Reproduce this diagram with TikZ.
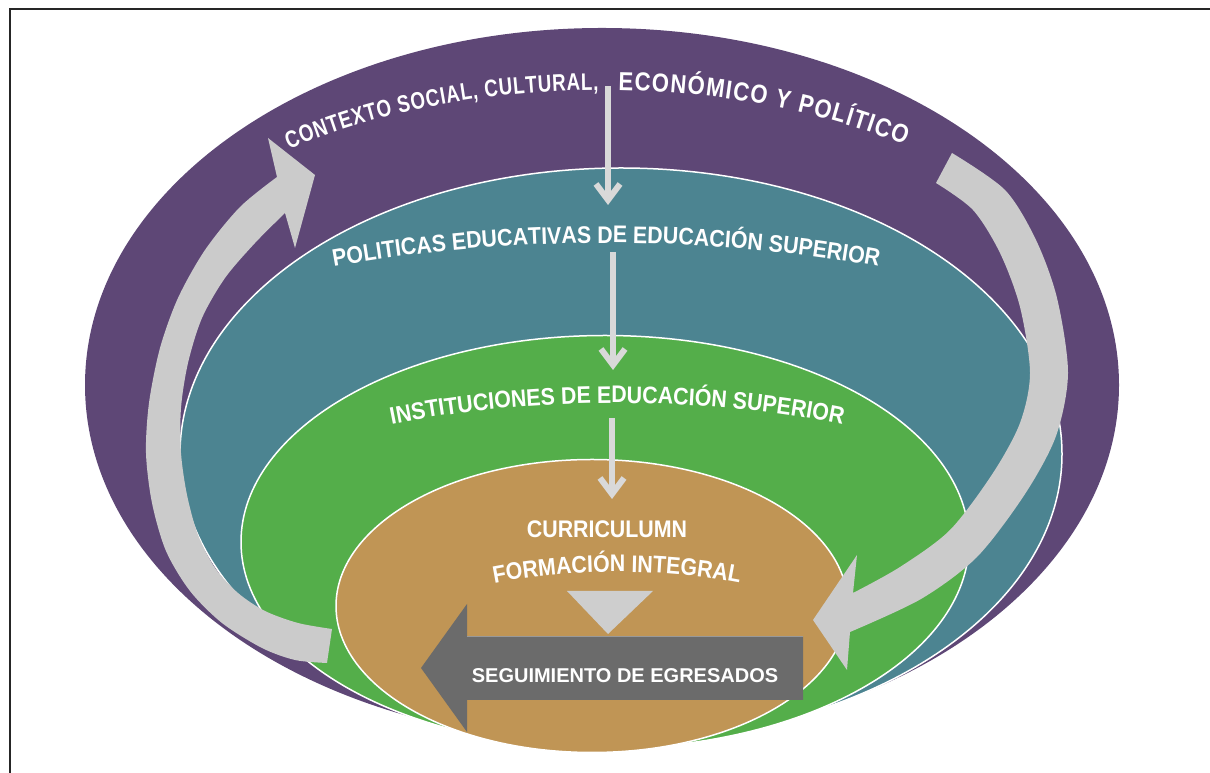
\documentclass[tikz,border=0pt]{standalone}
\usepackage{fontspec}
\setmainfont{Liberation Sans}
\newfontfamily\bandfamily[FakeStretch=0.89]{Liberation Sans}
\newfontfamily\archfamily[FakeStretch=0.78]{Liberation Sans}
\newfontfamily\widearchfamily[FakeStretch=0.85]{Liberation Sans}
\usetikzlibrary{shapes.geometric,decorations.text,arrows.meta,positioning}

\definecolor{ctxpurple}{HTML}{5E4776}
\definecolor{polteal}{HTML}{4C8491}
\definecolor{insgreen}{HTML}{54AE4A}
\definecolor{curtan}{HTML}{C09555}
\definecolor{loopgray}{HTML}{CBCBCB}
\definecolor{flowgray}{HTML}{D9D9D9}
\definecolor{segdark}{HTML}{6B6B6B}

\newcommand\bandfont{\color{white}\bandfamily\bfseries\fontsize{24}{28}\selectfont}
\newcommand\archfont{\color{white}\archfamily\bfseries\fontsize{24}{28}\selectfont}
\newcommand\widearchfont{\color{white}\widearchfamily\bfseries\fontsize{26}{30}\selectfont}

\begin{document}
\begin{tikzpicture}[x=1pt,y=1pt,
  layer/.style={ellipse,inner sep=0pt,outer sep=0pt,draw=white,line width=1.5pt},
  flow/.style={draw=flowgray,line width=6pt,-{Straight Barb[length=16pt,width=24pt]}},
  band text/.style={decorate,decoration={text along path,text align=center,text={|\bandfont|#1}}},
  arch text/.style={decorate,decoration={text along path,text align=fit to path,text={|\archfont|#1}}},
  wide arch text/.style={decorate,decoration={text along path,text align=fit to path,text={|\widearchfont|#1}}},
  main label/.style={text=white,font=\bandfamily\bfseries\fontsize{24}{28}\selectfont,inner sep=0pt}]

  \useasboundingbox (0,0) rectangle (1210,773);
  \draw[line width=2pt,black!85] (10,0) -- (10,764) -- (1210,764);

  % nested layers
  \node[layer,draw=none,fill=ctxpurple,minimum width=1034pt,minimum height=714pt] (ctx) at (602,388) {};
  \node[layer,fill=polteal,minimum width=882pt,minimum height=572pt] (pol) at (621,319) {};
  \node[layer,fill=insgreen,minimum width=728pt,minimum height=413pt] (ins) at (605,231) {};
  \node[layer,fill=curtan,minimum width=512pt,minimum height=293pt] (cur) at (592,167) {};

  % loop arrows
  \fill[loopgray] plot[smooth] coordinates {(277,596) (240,566) (205,523) (178,475) (160,425)
      (149,370) (146,320) (152,270) (166,222) (190,182) (222,150) (262,125) (295,113) (327,110)}
    -- (332,144)
    -- plot[smooth] coordinates {(332,144) (298,150) (265,162) (238,180) (215,205) (198,238)
      (187,278) (181,320) (181,365) (188,410) (202,455) (225,495) (255,530) (285,560)}
    -- (295,525) -- (315,598) -- (268,635) -- cycle;
  \fill[loopgray] (936,590) -- (952,620)
    -- plot[smooth] coordinates {(952,620) (1005,583) (1036,533) (1057,475) (1068,400)
      (1056,337) (1025,279) (977,216) (921,174) (850,141)}
    -- (847,103) -- (813,153) -- (857,218) -- (853,180)
    -- plot[smooth] coordinates {(853,180) (900,206) (950,243) (993,300) (1020,350)
      (1030,400) (1020,466) (1000,520) (973,563) (936,590)} -- cycle;

  % layer titles
  \path[arch text={CONTEXTO SOCIAL, CULTURAL,}]
    ([shift={(127:520 and 295)}]602,388) arc[start angle=127,end angle=90.4,x radius=520,y radius=295];
  \path[wide arch text={ECONÓMICO Y POLÍTICO}]
    ([shift={(88.2:520 and 295)}]602,388) arc[start angle=88.2,end angle=54.4,x radius=520,y radius=295];
  \path[band text={POLITICAS EDUCATIVAS DE EDUCACIÓN SUPERIOR}]
    ([shift={(125:700 and 300)}]606,230) arc[start angle=125,end angle=55,x radius=700,y radius=300];
  \path[band text={INSTITUCIONES DE EDUCACIÓN SUPERIOR}]
    ([shift={(130:500 and 200)}]617,170) arc[start angle=130,end angle=50,x radius=500,y radius=200];
  \path[band text={FORMACIÓN INTEGRAL}]
    ([shift={(140:265 and 100)}]617,101) arc[start angle=140,end angle=40,x radius=265,y radius=100];
  \node[main label,anchor=base] (curlabel) at (607,235) {CURRICULUMN};

  % downward flow
  \coordinate (f1a) at (608,687);
  \coordinate (f1b) at (608,568);
  \coordinate (f2a) at (613,521);
  \coordinate (f2b) at (613,403);
  \coordinate (f3a) at (612,355);
  \coordinate (f3b) at (612,274);
  \path (f1a) edge[flow] (f1b)
        (f2a) edge[flow] (f2b)
        (f3a) edge[flow] (f3b);

  % follow-up arrow
  \fill[flowgray!95!black] (567,182) -- (653,182) -- (608,139) -- cycle;
  \fill[segdark] (421,105) -- (467,169) -- (467,136) -- (803,136) -- (803,73)
    -- (467,73) -- (467,41) -- cycle;
  \draw[gray!80,line width=1pt] (467,136) -- (803,136);
  \node[main label,anchor=base,font=\bfseries\fontsize{20}{24}\selectfont] (seg) at (625,90)
    {SEGUIMIENTO DE EGRESADOS};
\end{tikzpicture}
\end{document}
